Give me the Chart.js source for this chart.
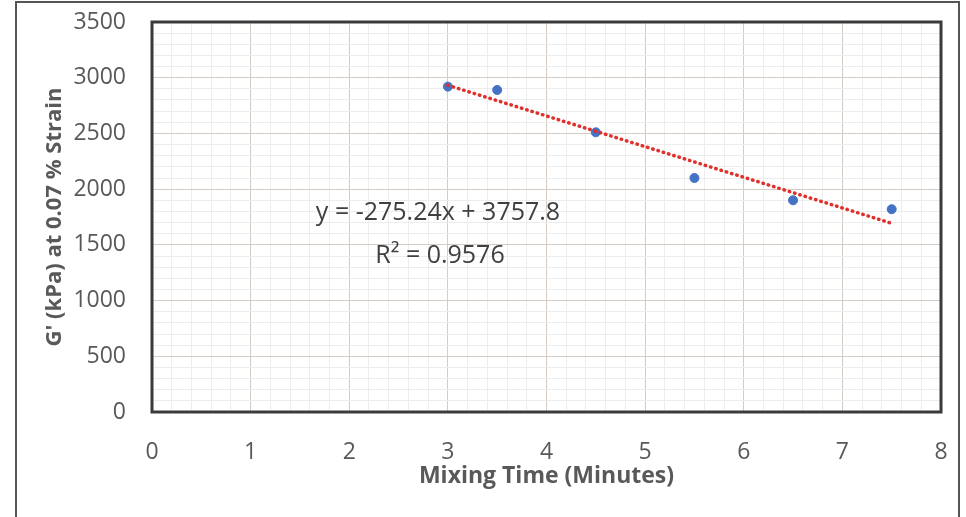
<!DOCTYPE html>
<html>
<head>
<meta charset="utf-8">
<script src="https://cdn.jsdelivr.net/npm/chart.js@4.4.1/dist/chart.umd.min.js"></script>
<style>
  html, body { margin: 0; padding: 0; background: #fff; }
  #wrap { position: relative; width: 966px; height: 517px; overflow: hidden; }
  #frame { position: absolute; left: 15px; top: 1px; width: 941px; height: 540px; border: 2px solid #555; pointer-events: none; }
</style>
</head>
<body>
<div id="wrap">
  <canvas id="gChart" width="966" height="517"></canvas>
  <div id="frame"></div>
</div>
<script>
// measured points
var mixTime = [3, 3.5, 4.5, 5.5, 6.5, 7.5];
var gPrime = [2920, 2890, 2510, 2100, 1900, 1820];

// linear trendline ends (y = -275.24x + 3757.8)
var trendX = [3, 7.5];
var trendY = [2932.1, 1693.5];

var eqText = 'y = -275.24x + 3757.8';
var r2Text = 'R\u00b2 = 0.9576';

var greyText = '#595959';
var tickFont = { family: 'Open Sans', size: 23 };
var xTitleFont = { family: 'Open Sans', size: 23, weight: 'bold' };
var yTitleFont = { family: 'Open Sans', size: 22, weight: 'bold' };

function isMajor(v, step) {
    var r = v / step;
    return Math.abs(r - Math.round(r)) < 1e-6;
}

// box around the plot area + equation label
var extras = {
    id: 'extras',
    afterDatasetsDraw: function(chart) {
        var ctx = chart.ctx, a = chart.chartArea;
        ctx.save();
        ctx.strokeStyle = '#3a3a3a';
        ctx.lineWidth = 3;
        ctx.strokeRect(a.left, a.top, a.right - a.left, a.bottom - a.top);
        var xs = chart.scales.x, ys = chart.scales.y;
        ctx.fillStyle = '#404040';
        ctx.font = '25px "Open Sans"';
        ctx.textAlign = 'center';
        ctx.textBaseline = 'middle';
        ctx.fillText(eqText, xs.getPixelForValue(2.9), ys.getPixelForValue(1790));
        ctx.fillText(r2Text, xs.getPixelForValue(2.92), ys.getPixelForValue(1400));
        ctx.restore();
    }
};

var ctx = document.getElementById('gChart').getContext('2d');
var chart = new Chart(ctx, {
    type: 'scatter',
    data: {
        datasets: [{
            label: 'Trend',
            type: 'line',
            data: trendX.map(function(x, i) { return { x: x, y: trendY[i] }; }),
            borderColor: '#e0302b',
            borderWidth: 3.5,
            borderDash: [0.5, 5],
            borderCapStyle: 'round',
            pointRadius: 0,
            fill: false,
            order: 0
        }, {
            label: "G'",
            data: mixTime.map(function(x, i) { return { x: x, y: gPrime[i] }; }),
            backgroundColor: '#4472c4',
            borderColor: '#4472c4',
            pointRadius: 4.5,
            order: 1
        }]
    },
    options: {
        responsive: false,
        animation: false,
        layout: { padding: { left: 0, right: 25, top: 22, bottom: 0 } },
        plugins: {
            legend: { display: false },
            tooltip: { enabled: false }
        },
        scales: {
            x: {
                type: 'linear',
                min: 0,
                max: 8,
                afterFit: function(s) { s.height = 105; s.paddingLeft = 0; s.paddingRight = 0; },
                border: { display: false },
                grid: {
                    drawTicks: false,
                    color: function(c) { return isMajor(c.tick.value, 1) ? '#d6ccc6' : '#ededed'; }
                },
                ticks: {
                    stepSize: 0.2,
                    autoSkip: false,
                    maxRotation: 0,
                    padding: 27,
                    color: greyText,
                    font: tickFont,
                    callback: function(v) { return isMajor(v, 1) ? String(Math.round(v)) : ''; }
                },
                title: {
                    display: true,
                    text: 'Mixing Time (Minutes)',
                    color: greyText,
                    font: xTitleFont,
                    padding: { top: 0, bottom: 27 }
                }
            },
            y: {
                type: 'linear',
                min: 0,
                max: 3500,
                afterFit: function(s) { s.width = 152; s.paddingTop = 0; s.paddingBottom = 0; },
                border: { display: false },
                grid: {
                    drawTicks: false,
                    color: function(c) { return isMajor(c.tick.value, 500) ? '#d6ccc6' : '#ededed'; }
                },
                ticks: {
                    stepSize: 100,
                    autoSkip: false,
                    padding: 26,
                    color: greyText,
                    font: tickFont,
                    callback: function(v) { return isMajor(v, 500) ? String(v) : ''; }
                },
                title: {
                    display: true,
                    text: "G' (kPa) at 0.07 % Strain",
                    color: greyText,
                    font: yTitleFont,
                    padding: { top: 42, bottom: 0 }
                }
            }
        }
    },
    plugins: [extras]
});
</script>
</body>
</html>
